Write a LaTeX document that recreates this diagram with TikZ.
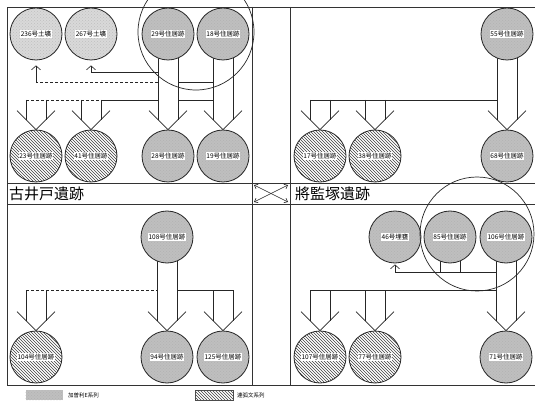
\documentclass[tikz,border=0pt]{standalone}
\usepackage{fontspec}
\setmainfont{Noto Sans CJK JP}
\usetikzlibrary{calc,patterns,arrows.meta,backgrounds}
\newcommand\lbl[1]{{\setlength\fboxsep{0.8pt}\colorbox{white}{#1}}}
\newcommand\sidepts[1]{\path (#1) ++(-10,0) coordinate (#1-L) ++(20,0) coordinate (#1-R);}
\newcommand\harrow[2]{%
  \path (#1.north) ++(-10,-10) coordinate (#1-hl) ++(20,0) coordinate (#1-hr);
  \draw[conn] (#1-hl |- #2) -- (#1-hl);
  \draw[conn] (#1-hr |- #2) -- (#1-hr);
  \draw[conn] ($(#1.north)+(-19,-19)$) -- (#1.north) -- ($(#1.north)+(19,-19)$);}
\begin{document}
\begin{tikzpicture}[x=1pt,y=-1pt,
  site/.style={circle, draw=black!85, line width=0.8pt, minimum size=52pt, inner sep=0pt,
    font=\fontsize{6.5}{7}\selectfont},
  kasori/.style={site, preaction={fill=gray!50}, pattern=crosshatch dots, pattern color=black!30},
  kasoril/.style={site, preaction={fill=gray!30}, pattern=crosshatch dots, pattern color=black!25},
  renko/.style={site, preaction={fill=white}, pattern=north west lines, pattern color=black!75},
  group/.style={circle, draw=black!85, line width=0.7pt, inner sep=0pt},
  conn/.style={line width=0.6pt, black!85},
  dsh/.style={dash pattern=on 3pt off 2pt},
  frame/.style={line width=0.7pt, black!80},
  title/.style={font=\fontsize{15}{17}\selectfont, inner sep=0pt, anchor=west},
  barb/.style={-{Straight Barb[length=4pt,width=9pt]}},
  legt/.style={font=\fontsize{5.5}{6}\selectfont, inner sep=0pt, anchor=west}]
\clip (0,0) rectangle (535,403);
% frame
\draw[frame] (7,7) rectangle (545,385);
\draw[frame] (252,7) -- (252,385);
\draw[frame] (290,7) -- (290,385);
\draw[frame] (7,183) -- (545,183);
\draw[frame] (7,204) -- (545,204);
% titles
\node[title] (t1) at (9,194) {古井戸遺跡};
\node[title] (t2) at (295,194) {將監塚遺跡};
\coordinate (x1) at (254,185); \coordinate (x2) at (288,202);
\coordinate (x3) at (254,202); \coordinate (x4) at (288,185);
\draw[conn, {Straight Barb[length=3pt,width=5pt]}-{Straight Barb[length=3pt,width=5pt]}] (x1) -- (x2);
\draw[conn, {Straight Barb[length=3pt,width=5pt]}-{Straight Barb[length=3pt,width=5pt]}] (x3) -- (x4);
% line levels
\coordinate (y72) at (0,72); \coordinate (y82) at (0,82); \coordinate (y100) at (0,100);
\coordinate (y272) at (0,272); \coordinate (y290) at (0,290);
% top-left
\node[kasoril] (a236) at (36,34) {\lbl{236号土壙}};
\node[kasoril] (a267) at (91,34) {\lbl{267号土壙}};
\node[kasori] (a29) at (168,34) {\lbl{29号住居跡}};
\node[kasori] (a18) at (223,34) {\lbl{18号住居跡}};
\node[renko] (a23) at (36,156) {\lbl{23号住居跡}};
\node[renko] (a41) at (91,156) {\lbl{41号住居跡}};
\node[kasori] (a28) at (168,156) {\lbl{28号住居跡}};
\node[kasori] (a19) at (223,156) {\lbl{19号住居跡}};
\node[group, minimum size=116pt] (g1) at (196,32) {};
% top-right
\node[kasori] (b55) at (507,34) {\lbl{55号住居跡}};
\node[renko] (b17) at (320,156) {\lbl{17号住居跡}};
\node[renko] (b38) at (375,156) {\lbl{38号住居跡}};
\node[kasori] (b68) at (507,156) {\lbl{68号住居跡}};
% bottom-left
\node[kasori] (c108) at (167,237) {\lbl{108号住居跡}};
\node[renko] (c104) at (36,357) {\lbl{104号住居跡}};
\node[kasori] (c94) at (167,357) {\lbl{94号住居跡}};
\node[kasori] (c125) at (223,357) {\lbl{125号住居跡}};
% bottom-right
\node[kasori] (d46) at (395,237) {\lbl{46号埋甕}};
\node[kasori] (d85) at (450,237) {\lbl{85号住居跡}};
\node[kasori] (d106) at (506,237) {\lbl{106号住居跡}};
\node[renko] (d107) at (320,357) {\lbl{107号住居跡}};
\node[renko] (d77) at (375,357) {\lbl{77号住居跡}};
\node[kasori] (d71) at (506,357) {\lbl{71号住居跡}};
\node[group, minimum size=114pt] (g2) at (477,234) {};
% legend
\node[minimum width=37pt, minimum height=10pt, inner sep=0pt, preaction={fill=gray!50},
  pattern=crosshatch dots, pattern color=black!30] (lk) at (44,395) {};
\node[legt] (lkt) at (68,395) {加曽利E系列};
\node[minimum width=38pt, minimum height=10pt, inner sep=0pt, draw=black!70, line width=0.4pt,
  preaction={fill=white}, pattern=north west lines, pattern color=black!75] (lr) at (214,395) {};
\node[legt] (lrt) at (237,395) {連弧文系列};
% connectors
\begin{pgfonlayer}{background}
\fill[white] (0,0) rectangle (535,403);
\sidepts{a29} \sidepts{a18} \sidepts{b55} \sidepts{c108} \sidepts{d106} \sidepts{d85}
% top-left
\harrow{a28}{a29}
\harrow{a19}{a18}
\harrow{a23}{y100}
\harrow{a41}{y100}
\draw[conn, barb] (a29-L |- y72) -| ([yshift=-5pt]a267.south);
\draw[conn, dsh] (a29-L |- y82) -- (a236 |- y82);
\draw[conn, barb] (a236 |- y82) -- ([yshift=-5pt]a236.south);
\draw[conn] (a29-R |- y82) -- (a18-L |- y82);
\draw[conn, dsh] (a23-hl |- y100) -- (a41-hr |- y100);
\draw[conn] (a41-hr |- y100) -- (a29-L |- y100);
\draw[conn] (a29-R |- y100) -- (a18-L |- y100);
% top-right
\harrow{b68}{b55}
\harrow{b17}{y100}
\harrow{b38}{y100}
\draw[conn] (b17-hl |- y100) -- (b55-L |- y100);
% bottom-left
\harrow{c94}{c108}
\harrow{c104}{y290}
\harrow{c125}{y290}
\draw[conn, dsh] (c104-hl |- y290) -- (c108-L |- y290);
\draw[conn] (c108-R |- y290) -- (c125-hr |- y290);
% bottom-right
\harrow{d71}{d106}
\harrow{d107}{y290}
\harrow{d77}{y290}
\draw[conn] (d107-hl |- y290) -- (d106-L |- y290);
\draw[conn, barb] (d106-L |- y272) -| ([yshift=-1pt]d46.south);
\draw[conn] (d85-L) -- (d85-L |- y272);
\draw[conn] (d85-R) -- (d85-R |- y272);
\end{pgfonlayer}
\end{tikzpicture}
\end{document}
